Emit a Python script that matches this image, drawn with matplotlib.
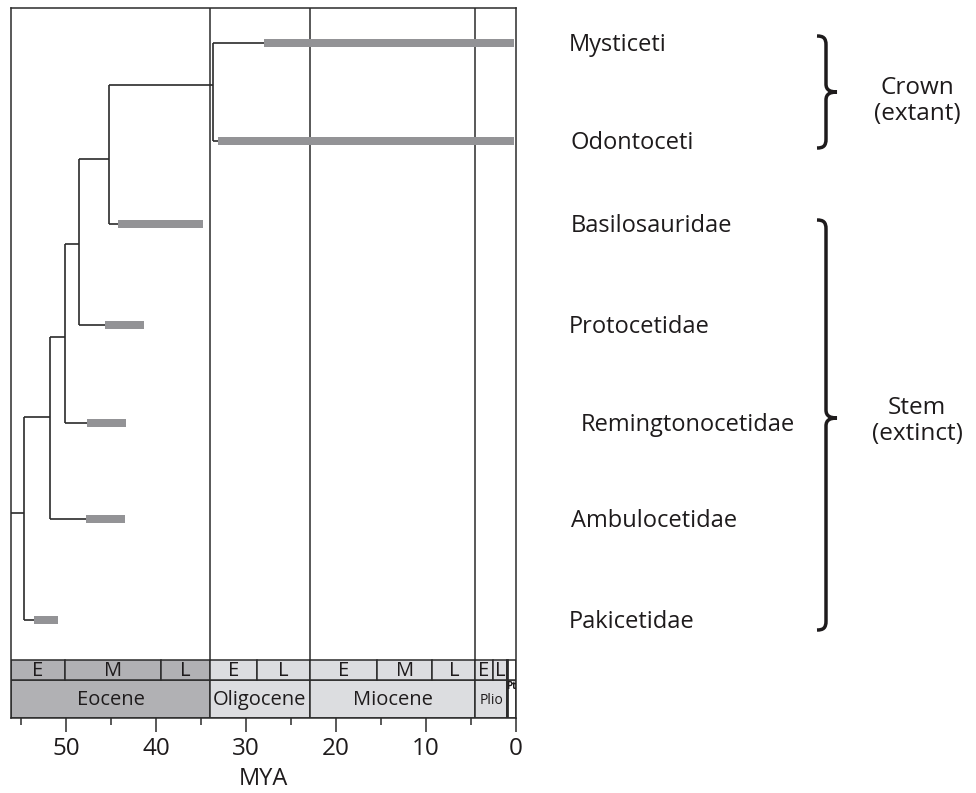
import matplotlib
matplotlib.use("Agg")
import matplotlib.pyplot as plt
from matplotlib.path import Path
from matplotlib.patches import PathPatch, Rectangle

plt.rcParams['font.family'] = ['Open Sans', 'DejaVu Sans']

# ---------------- data ----------------
taxa = ['Mysticeti', 'Odontoceti', 'Basilosauridae', 'Protocetidae',
        'Remingtonocetidae', 'Ambulocetidae', 'Pakicetidae']
first_appearance = [28.0, 33.1, 44.2, 45.7, 47.7, 47.8, 53.5]   # MYA
last_appearance = [0.2, 0.2, 34.8, 41.3, 43.3, 43.4, 50.9]      # MYA

node_names = ['root', 'A', 'B', 'C', 'D', 'E', 'F']
node_ages = [56.1, 54.7, 51.8, 50.1, 48.6, 45.2, 33.7]          # MYA
node_children = [['A'], ['B', 'Pakicetidae'], ['C', 'Ambulocetidae'],
                 ['D', 'Remingtonocetidae'], ['E', 'Protocetidae'],
                 ['F', 'Basilosauridae'], ['Mysticeti', 'Odontoceti']]

epochs = ['Eocene', 'Oligocene', 'Miocene', 'Plio', 'Pt']
epoch_start = [56.1, 34.0, 22.9, 4.5, 1.0]
epoch_end = [34.0, 22.9, 4.5, 1.0, 0.0]

sub_labels = ['E', 'M', 'L', 'E', 'L', 'E', 'M', 'L', 'E', 'L', '']
sub_start = [56.1, 50.1, 39.4, 34.0, 28.8, 22.9, 15.4, 9.3, 4.5, 2.6, 1.0]
sub_end = [50.1, 39.4, 34.0, 28.8, 22.9, 15.4, 9.3, 4.5, 2.6, 1.0, 0.0]

major_ticks = [50, 40, 30, 20, 10, 0]
minor_ticks = [55, 45, 35, 25, 15, 5]

groups = ['Crown\n(extant)', 'Stem\n(extinct)']

# ---------------- layout (pixels) ----------------
W, H = 976, 793
tip_y = [43, 141, 224, 325, 423, 519, 620]
node_y = [513, 513, 417, 337, 244, 159, 85]
label_x = [569, 571, 571, 569, 581, 571, 569]
TOP, BOT = 8, 718
BAND1 = (660, 680)
BAND2 = (680, 718)

LINE = '#2b2b2b'
BAR = '#939396'
DARK = '#b1b1b4'
LIGHT = '#dcdde0'
TXT = '#1e1b1c'

fig = plt.figure(figsize=(W / 100, H / 100), dpi=100)
L, R = 11, 516
ax = fig.add_axes([L / W, 1 - BOT / H, (R - L) / W, (BOT - TOP) / H])
ax.set_xlim(epoch_start[0], 0)
ax.set_ylim(BOT, TOP)

# ---- time bands ----
for name, s, e in zip(epochs, epoch_start, epoch_end):
    col = DARK if name == 'Eocene' else ('white' if name == 'Pt' else LIGHT)
    ax.add_patch(Rectangle((e, BAND2[0]), s - e, BAND2[1] - BAND2[0],
                           facecolor=col, edgecolor=LINE, lw=1.1, zorder=1))
    if name == 'Pt':
        ax.text((s + e) / 2, BAND2[0] + 1, name, ha='center', va='top',
                fontsize=7, fontweight='bold', color=TXT, zorder=3)
    elif name == 'Plio':
        ax.text((s + e) / 2, sum(BAND2) / 2 + 1, name, ha='center', va='center',
                fontsize=10, color=TXT, zorder=3)
    else:
        ax.text((s + e) / 2, sum(BAND2) / 2 + 1, name, ha='center', va='center',
                fontsize=14.5, color=TXT, zorder=3)
# thicker Plio / Pleistocene line
ax.plot([epoch_start[-1]] * 2, [BAND1[0], BAND2[1]], color=LINE, lw=2, zorder=2)

for lab, s, e in zip(sub_labels, sub_start, sub_end):
    col = DARK if s > 34.0 else ('white' if lab == '' else LIGHT)
    ax.add_patch(Rectangle((e, BAND1[0]), s - e, BAND1[1] - BAND1[0],
                           facecolor=col, edgecolor=LINE, lw=1.1, zorder=1))
    if lab:
        ax.text((s + e) / 2, sum(BAND1) / 2 + 1, lab, ha='center', va='center',
                fontsize=14.5, color=TXT, zorder=3)

# ---- epoch boundary lines through the plot ----
for b in epoch_start[1:4]:
    ax.plot([b, b], [TOP, BAND1[0]], color=LINE, lw=1.1, zorder=2)

# ---- range bars ----
for name, fa, la, y in zip(taxa, first_appearance, last_appearance, tip_y):
    ax.barh(y, fa - la, left=la, height=8, color=BAR, zorder=3)

# ---- tree ----
age = dict(zip(node_names, node_ages))
ny = dict(zip(node_names, node_y))
for name, fa, y in zip(taxa, first_appearance, tip_y):
    age[name] = fa
    ny[name] = y
for name, ch in zip(node_names, node_children):
    ys = [ny[c] for c in ch] + [ny[name]]
    if len(ch) > 1:
        ax.plot([age[name]] * 2, [min(ys), max(ys)], color=LINE, lw=1.2,
                zorder=4, solid_capstyle='butt')
    for c in ch:
        ax.plot([age[name], age[c]], [ny[c]] * 2, color=LINE, lw=1.2,
                zorder=4, solid_capstyle='butt')

# ---- axes styling ----
for sp in ax.spines.values():
    sp.set_color(LINE)
    sp.set_linewidth(1.1)
ax.set_yticks([])
ax.set_xticks(major_ticks)
ax.set_xticks(minor_ticks, minor=True)
ax.set_xticklabels([str(t) for t in major_ticks])
ax.tick_params(axis='x', which='major', length=10, width=1.1, color=LINE,
               labelsize=17.5, labelcolor=TXT, pad=4)
ax.tick_params(axis='x', which='minor', length=5, width=1.1, color=LINE)

fig.text((L + R) / 2 / W, 1 - 779 / H, 'MYA', ha='center', va='center',
         fontsize=17, color=TXT)

# ---------------- right side overlay ----------------
ov = fig.add_axes([0, 0, 1, 1])
ov.set_xlim(0, W)
ov.set_ylim(H, 0)
ov.axis('off')
ov.patch.set_visible(False)

for name, x, y in zip(taxa, label_x, tip_y):
    ov.text(x, y + 2, name, ha='left', va='center', fontsize=17, color=TXT)


def brace(x0, ytop, ybot, ytip, w=9, d=11):
    xv = x0 + w
    verts = [(x0, ytop),
             (x0 + w * 0.7, ytop), (xv, ytop + 2), (xv, ytop + 9),
             (xv, ytip - 8),
             (xv, ytip - 2), (xv + 4, ytip), (xv + d, ytip),
             (xv + 4, ytip), (xv, ytip + 2), (xv, ytip + 8),
             (xv, ybot - 9),
             (xv, ybot - 2), (x0 + w * 0.7, ybot), (x0, ybot)]
    codes = ([Path.MOVETO] + [Path.CURVE4] * 3 + [Path.LINETO] +
             [Path.CURVE4] * 6 + [Path.LINETO] + [Path.CURVE4] * 3)
    ov.add_patch(PathPatch(Path(verts, codes), facecolor='none',
                           edgecolor=TXT, lw=2.5, capstyle='butt'))


brace(817, 36, 148, 92)
brace(817, 220, 630, 418)

ov.text(917, 101, groups[0], ha='center', va='center', fontsize=17.5,
        color=TXT, linespacing=1.15)
ov.text(917, 421, groups[1], ha='center', va='center', fontsize=17.5,
        color=TXT, linespacing=1.15)

fig.savefig('out.png', dpi=100)
